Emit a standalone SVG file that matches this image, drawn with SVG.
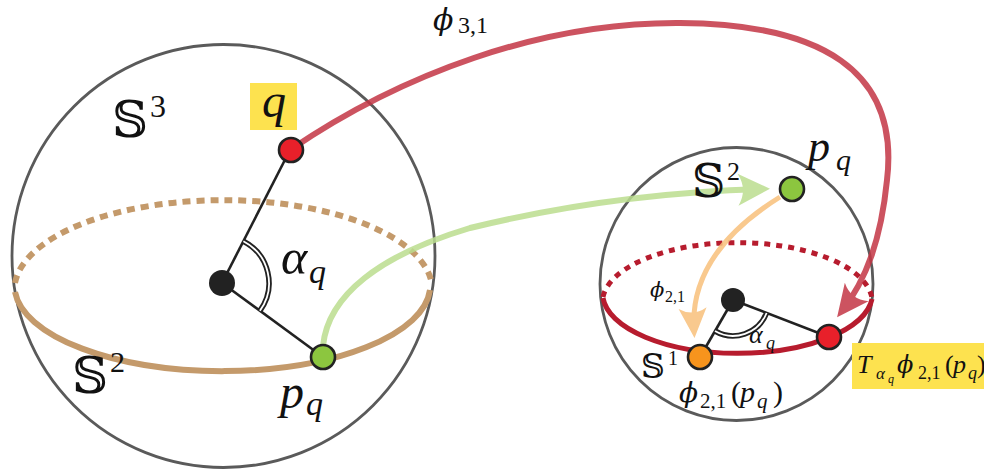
<svg xmlns="http://www.w3.org/2000/svg" width="984" height="474" viewBox="0 0 984 474">
<style>
.sph{fill:none;stroke:#5a5a5a;stroke-width:2.8}
.rad{fill:none;stroke:#222;stroke-width:2.6}
.angb{fill:none;stroke:#222;stroke-width:5.5}
.angw{fill:none;stroke:#fff;stroke-width:1.8}
.pt{stroke:#222;stroke-width:2.6}
.mi{font-family:"Liberation Serif","Times New Roman",serif;font-style:italic;fill:#111}
.ph{font-family:"DejaVu Serif","Liberation Serif",serif;font-style:italic;fill:#111}
.rm{font-family:"Liberation Serif","Times New Roman",serif;font-style:normal;fill:#111}
.bb{font-family:"DejaVu Serif","DejaVu Sans","Noto Sans",serif;fill:#111}
.hl{fill:#fde24f}
</style>
<defs>
<marker id="ahR" markerUnits="userSpaceOnUse" viewBox="-40 -20 50 40" markerWidth="50" markerHeight="40" refX="-8" refY="0" orient="auto" overflow="visible"><path d="M0,0 L-32,-15 Q-22,0 -32,15 Z" fill="#c43645"/></marker>
<marker id="ahG" markerUnits="userSpaceOnUse" viewBox="-40 -20 50 40" markerWidth="50" markerHeight="40" refX="-8" refY="0" orient="auto" overflow="visible"><path d="M0,0 L-32,-16 Q-22,0 -32,16 Z" fill="#bbde8f"/></marker>
<marker id="ahO" markerUnits="userSpaceOnUse" viewBox="-40 -20 50 40" markerWidth="50" markerHeight="40" refX="-8" refY="0" orient="auto" overflow="visible"><path d="M0,0 L-30,-14 Q-21,0 -30,14 Z" fill="#f8c07b"/></marker>
</defs>

<g id="sphere3">
<circle class="sph" cx="223.5" cy="256" r="211.5"/>
<path d="M15,283 A209 90 0 0 1 432 285" fill="none" stroke="#c49a6b" stroke-width="6" stroke-dasharray="8 6"/>
<path d="M15,292 A208 86 0 0 0 430 290" fill="none" stroke="#c49a6b" stroke-width="6"/>
<line class="rad" x1="222" y1="283" x2="290" y2="150"/>
<line class="rad" x1="222" y1="283" x2="323" y2="357"/>
<path class="angb" d="M243.4,241.2 A47 47 0 0 1 259.9,310.8"/>
<path class="angw" d="M243.4,241.2 A47 47 0 0 1 259.9,310.8"/>
<circle cx="222" cy="283" r="13" fill="#222"/>
</g>

<g id="sphere2">
<circle class="sph" cx="736.5" cy="284" r="136.5"/>
<path d="M603,297 A135 60 0 0 1 872,298" fill="none" stroke="#b71c2e" stroke-width="5" stroke-dasharray="6 6"/>
<path d="M603,298 A135 60 0 0 0 872,299" fill="none" stroke="#b71c2e" stroke-width="5"/>
<line class="rad" x1="733" y1="300" x2="700" y2="357"/>
<line class="rad" x1="733" y1="300" x2="829" y2="337"/>
<path class="angb" d="M715,331 A36 36 0 0 0 766.6,313"/>
<path class="angw" d="M715,331 A36 36 0 0 0 766.6,313"/>
<circle cx="733" cy="300" r="12" fill="#222"/>
</g>

<g id="connectors">
<g opacity="0.85"><path d="M290,150 C400,75 540,22 680,23 C820,24 900,70 887,180 C881,240 866,280 842,311" fill="none" stroke="#c43645" stroke-width="6" marker-end="url(#ahR)"/></g>
<g opacity="0.85"><path d="M323,346 C328,295 380,255 470,228 C560,206 660,192 762,189" fill="none" stroke="#bbde8f" stroke-width="6" marker-end="url(#ahG)"/></g>
<g opacity="0.85"><path d="M780,197 C735,225 690,268 694,330" fill="none" stroke="#f8c07b" stroke-width="5" marker-end="url(#ahO)"/></g>
</g>

<g id="q"><circle class="pt" cx="291" cy="150" r="12" fill="#e8202a"/>
<rect class="hl" x="250" y="83" width="47" height="47"/>
<text class="mi" x="274" y="117" font-size="48" text-anchor="middle">q</text></g>

<g id="pq-left"><circle class="pt" cx="323" cy="357" r="12" fill="#8cc63f"/>
<text class="mi" x="280" y="408" font-size="48">p</text><text class="mi" x="306" y="415" font-size="34">q</text></g>

<g id="pq-right"><circle class="pt" cx="792" cy="189" r="12" fill="#8cc63f"/>
<text class="mi" x="808" y="161" font-size="44">p</text><text class="mi" x="836" y="170" font-size="30">q</text></g>

<g id="phi21pq"><circle class="pt" cx="700" cy="357" r="12" fill="#f7941d"/>
<text class="ph" x="679" y="402" font-size="28">ϕ</text><text class="rm" x="700" y="408" font-size="21">2,1</text><text class="rm" x="731" y="402" font-size="30">(</text><text class="mi" x="740" y="402" font-size="30">p</text><text class="mi" x="757" y="408" font-size="21">q</text><text class="rm" x="773" y="402" font-size="30">)</text></g>

<g id="Tphi"><circle class="pt" cx="829" cy="337" r="12" fill="#e8202a"/>
<rect class="hl" x="852" y="343" width="132" height="46"/>
<text class="mi" x="857" y="373" font-size="26">T</text><text class="mi" x="876" y="379" font-size="17">α</text><text class="mi" x="888" y="383" font-size="12">q</text><text class="ph" x="897" y="373" font-size="24">ϕ</text><text class="rm" x="918" y="379" font-size="18">2,1</text><text class="rm" x="945" y="373" font-size="26">(</text><text class="mi" x="953" y="373" font-size="26">p</text><text class="mi" x="968" y="379" font-size="18">q</text><text class="rm" x="977" y="373" font-size="26">)</text></g>

<g id="labels">
<text class="bb" x="112" y="137" font-size="50">𝕊</text><text class="rm" x="150" y="117" font-size="32">3</text>
<text class="bb" x="72" y="393" font-size="50">𝕊</text><text class="rm" x="110" y="372" font-size="30">2</text>
<text class="mi" x="281" y="274" font-size="50">α</text><text class="mi" x="309" y="283" font-size="34">q</text>
<text class="ph" x="433" y="30" font-size="30">ϕ</text><text class="rm" x="458" y="33" font-size="24">3,1</text>
<text class="bb" x="692" y="197" font-size="46">𝕊</text><text class="rm" x="727" y="180" font-size="26">2</text>
<text class="ph" x="650" y="297" font-size="21">ϕ</text><text class="rm" x="665" y="302" font-size="16">2,1</text>
<text class="mi" x="749" y="343" font-size="26">α</text><text class="mi" x="766" y="349" font-size="18">q</text>
<text class="bb" x="641" y="378" font-size="33">𝕊</text><text class="rm" x="668" y="365" font-size="20">1</text>
</g>
</svg>
